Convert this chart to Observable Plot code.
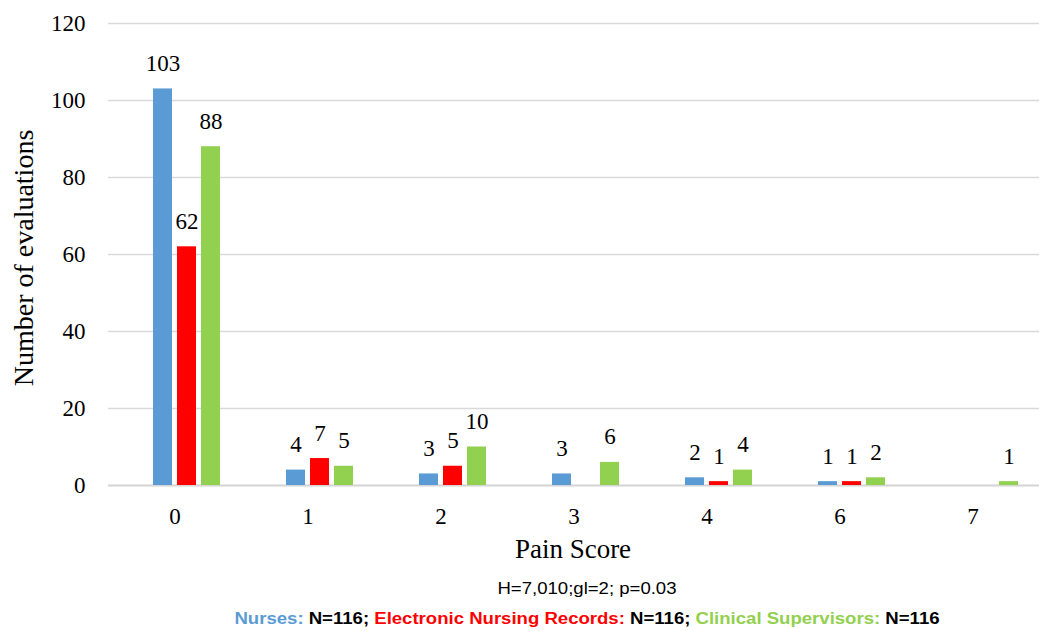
<!DOCTYPE html>
<html>
<head>
<meta charset="utf-8">
<script src="https://cdn.jsdelivr.net/npm/d3@7"></script>
<script src="https://cdn.jsdelivr.net/npm/@observablehq/plot@0.6"></script>
<style>
  html, body { margin: 0; padding: 0; background: #fff; }
  #wrap { position: relative; width: 1040px; height: 631px; overflow: hidden; }
  #chart svg, #chart svg text { font-family: "Liberation Serif", "Times New Roman", serif !important; }
  .foot { position: absolute; left: 134px; width: 906px; text-align: center;
          font-family: "Liberation Sans", Arial, sans-serif; font-size: 16px;
          transform: scaleX(1.16); transform-origin: 453px 50%; white-space: nowrap; }
  #f1 { top: 580px; color: #000; }
  #f2 { top: 610px; font-weight: bold; color: #000; }
</style>
</head>
<body>
<div id="wrap">
  <div id="chart"></div>
  <div class="foot" id="f1">H=7,010;gl=2; p=0.03</div>
  <div class="foot" id="f2"><span style="color:#5b9bd5">Nurses:</span> N=116; <span style="color:#ff0000">Electronic Nursing Records:</span> N=116; <span style="color:#92d050">Clinical Supervisors:</span> N=116</div>
</div>
<script>
// ---- data ----
const scores = ["0", "1", "2", "3", "4", "6", "7"];
const series = ["Nurses", "Electronic Nursing Records", "Clinical Supervisors"];
const nurses = [103, 4, 3, 3, 2, 1, 0];
const records = [62, 7, 5, 0, 1, 1, 0];
const supervisors = [88, 5, 10, 6, 4, 2, 1];
const yTicks = [0, 20, 40, 60, 80, 100, 120];
const colors = ["#5b9bd5", "#ff0000", "#92d050"];
const xTitle = "Pain Score";
const yTitle = "Number of evaluations";

const valuesBySeries = [nurses, records, supervisors];
const rows = [];
scores.forEach((s, i) => {
  series.forEach((name, j) => {
    const v = valuesBySeries[j][i];
    if (v > 0) rows.push({score: s, series: name, value: v});
  });
});

const W = 1040, H = 565;
const serif = "Liberation Serif, Times New Roman, serif";

const chart = Plot.plot({
  width: W,
  height: H,
  marginTop: 23,
  marginBottom: 80,
  marginLeft: 106,
  marginRight: 0,
  style: {fontFamily: serif, fontSize: "23px", color: "#000", background: "#fff"},
  fx: {domain: scores, padding: 0, label: null, tickSize: 0, tickPadding: 22, axis: "bottom"},
  x: {domain: series, axis: null, paddingInner: 0.215, paddingOuter: 1.364, align: 0.68},
  y: {domain: [0, 120], ticks: yTicks, tickSize: 0, tickPadding: 23, label: null},
  color: {domain: series, range: colors},
  marks: [
    Plot.ruleY(yTicks.filter(d => d > 0), {stroke: "#d9d9d9", strokeWidth: 1.3}),
    Plot.ruleY([0], {stroke: "#d4d4d4", strokeWidth: 2}),
    Plot.barY(rows, {fx: "score", x: "series", y: "value", fill: "series"}),
    Plot.text(rows, {fx: "score", x: "series", y: "value", text: d => String(d.value),
      lineAnchor: "bottom", dy: -18, fontSize: 23, fontFamily: serif, fill: "#000"})
  ]
});

const svg = d3.select(chart.tagName.toLowerCase() === "svg" ? chart : chart.querySelector("svg"));
svg.append("text")
  .attr("x", 573).attr("y", 558)
  .attr("text-anchor", "middle")
  .attr("font-size", 27).attr("fill", "#000")
  .text(xTitle);
svg.append("text")
  .attr("transform", "translate(32.5,258) rotate(-90)")
  .attr("text-anchor", "middle")
  .attr("font-size", 28).attr("fill", "#000")
  .text(yTitle);

document.getElementById("chart").appendChild(chart);
</script>
</body>
</html>
